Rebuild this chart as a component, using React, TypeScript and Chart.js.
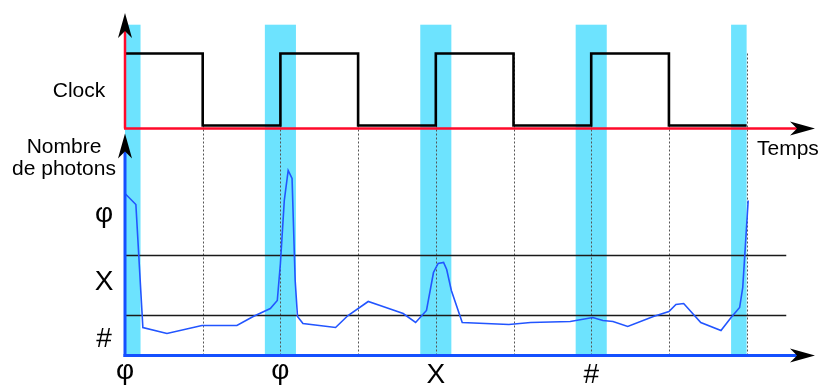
import React, { useEffect, useRef } from 'react';
import { Chart, registerables } from 'chart.js';

Chart.register(...registerables);

// ---- data ----
const clockTimes = [0, 1, 2, 3, 4, 5, 6, 7, 8];
const clockLevels = [1, 0, 1, 0, 1, 0, 1, 0, 0];

const photonTimes = [
  0, 0.14, 0.23, 0.54, 0.99, 1.44, 1.65, 1.87, 1.96, 2.0, 2.05, 2.1, 2.15, 2.19, 2.22, 2.29,
  2.71, 2.87, 3.13, 3.32, 3.58, 3.74, 3.88, 3.97, 4.03, 4.1, 4.14, 4.2, 4.34, 4.94, 5.22,
  5.73, 6.02, 6.15, 6.28, 6.47, 6.8, 7.0, 7.09, 7.19, 7.41, 7.67, 7.8, 7.91, 7.95, 7.98, 8.02,
];
const photonCounts = [
  81, 75.5, 14, 11, 15, 15, 19.5, 23.5, 27.5, 46, 77.5, 92.5, 88.5, 37.5, 19.5, 16,
  14, 20, 27, 24.5, 21, 16.5, 22.5, 41.5, 46, 46.5, 43, 32.5, 16.5, 15.5, 16.5,
  17, 19, 17.5, 17, 14.5, 19.5, 22, 25.5, 26, 16.5, 12.5, 19, 24, 34, 52.5, 77.5,
];

const thresholdLevels = [50, 20];
const thresholdEnd = 8.51;

const bandCenters = [0, 2, 4, 6, 8];
const bandHalfWidth = 0.2;
const bandTopClock = 1.4;

const dottedTimes = [1, 2, 3, 4, 5, 6, 7, 8];

const xTickValues = [0, 2, 4, 6];
const xTickLabels = ['φ', 'φ', 'X', '#'];
const yLabelValues = [69.25, 37.75, 9.25];
const yLabelTexts = ['φ', 'X', '#'];

const photonAxisTop = 111;

// ---- styles ----
const FONT = '"Liberation Sans", Arial, sans-serif';
const CYAN = '#6de3fe';
const BLUE_AXIS = '#1450ff';
const BLUE_LINE = '#2255ff';
const RED = '#ff0a2a';

function drawArrow(ctx: CanvasRenderingContext2D, tx: number, ty: number, dx: number, dy: number) {
  const len = 25, hw = 7, notch = 18;
  const nx = -dy, ny = dx;
  ctx.beginPath();
  ctx.moveTo(tx, ty);
  ctx.lineTo(tx - len * dx + hw * nx, ty - len * dy + hw * ny);
  ctx.lineTo(tx - notch * dx, ty - notch * dy);
  ctx.lineTo(tx - len * dx - hw * nx, ty - len * dy - hw * ny);
  ctx.closePath();
  ctx.fillStyle = '#000';
  ctx.fill();
}

function drawInkCentered(ctx: CanvasRenderingContext2D, text: string, cx: number, cy: number) {
  ctx.textAlign = 'center';
  ctx.textBaseline = 'alphabetic';
  const m = ctx.measureText(text);
  const y = cy + (m.actualBoundingBoxAscent - m.actualBoundingBoxDescent) / 2;
  ctx.fillText(text, cx, y);
}

const diagramPlugin = {
  id: 'diagram',
  beforeDatasetsDraw(chart: any) {
    const { ctx, scales } = chart;
    const x = scales.x, yc = scales.yClock, yp = scales.yPh;
    const tEnd = clockTimes[clockTimes.length - 1];
    ctx.save();
    ctx.fillStyle = CYAN;
    const top = yc.getPixelForValue(bandTopClock);
    const bottom = yp.getPixelForValue(0);
    bandCenters.forEach((c) => {
      const l = x.getPixelForValue(Math.max(0, c - bandHalfWidth));
      const r = x.getPixelForValue(Math.min(tEnd, c + bandHalfWidth));
      ctx.fillRect(l, top, r - l, bottom - top);
    });
    ctx.strokeStyle = '#555';
    ctx.lineWidth = 1;
    ctx.setLineDash([2, 2]);
    dottedTimes.forEach((t) => {
      const px = Math.round(x.getPixelForValue(t)) + 0.5;
      ctx.beginPath();
      ctx.moveTo(px, yc.getPixelForValue(1));
      ctx.lineTo(px, bottom);
      ctx.stroke();
    });
    ctx.restore();
  },
  afterDatasetsDraw(chart: any) {
    const { ctx, scales, chartArea } = chart;
    const x = scales.x, yc = scales.yClock, yp = scales.yPh;
    const x0 = x.getPixelForValue(0);
    ctx.save();
    ctx.setLineDash([]);
    // clock axes (red)
    const redY = yc.getPixelForValue(0) + 3;
    ctx.strokeStyle = RED;
    ctx.lineWidth = 2.5;
    ctx.beginPath();
    ctx.moveTo(x0, redY);
    ctx.lineTo(x0, chartArea.top + 18);
    ctx.stroke();
    ctx.beginPath();
    ctx.moveTo(x0 - 1, redY);
    ctx.lineTo(chartArea.right - 18, redY);
    ctx.stroke();
    drawArrow(ctx, x0, chartArea.top, 0, -1);
    drawArrow(ctx, chartArea.right, redY, 1, 0);
    // photon axes (blue)
    const blueY = yp.getPixelForValue(0);
    const phTop = yp.getPixelForValue(photonAxisTop);
    ctx.strokeStyle = BLUE_AXIS;
    ctx.lineWidth = 3;
    ctx.beginPath();
    ctx.moveTo(x0, blueY + 1.5);
    ctx.lineTo(x0, phTop + 18);
    ctx.stroke();
    ctx.beginPath();
    ctx.moveTo(x0 - 1.5, blueY);
    ctx.lineTo(chartArea.right - 18, blueY);
    ctx.stroke();
    drawArrow(ctx, x0, phTop, 0, -1);
    drawArrow(ctx, chartArea.right, blueY, 1, 0);

    // texts
    ctx.fillStyle = '#000';
    ctx.font = `21px ${FONT}`;
    ctx.textAlign = 'center';
    ctx.textBaseline = 'alphabetic';
    ctx.fillText('Clock', 79, 97);
    ctx.fillText('Nombre', 64, 153);
    ctx.fillText('de photons', 64, 175);
    ctx.textAlign = 'left';
    ctx.fillText('Temps', 757, 155);

    ctx.font = `28px ${FONT}`;
    yLabelTexts.forEach((t, i) => {
      drawInkCentered(ctx, t, 104, yp.getPixelForValue(yLabelValues[i]));
    });
    const xLabelY = blueY + 18;
    xTickLabels.forEach((t, i) => {
      drawInkCentered(ctx, t, x.getPixelForValue(xTickValues[i]), xLabelY);
    });
    ctx.restore();
  },
};

export default function App() {
  const canvasRef = useRef<HTMLCanvasElement | null>(null);

  useEffect(() => {
    const canvas = canvasRef.current;
    if (!canvas) return;
    const photonData = photonTimes.map((t, i) => ({ x: t, y: photonCounts[i] }));
    const clockData = clockTimes.map((t, i) => ({ x: t, y: clockLevels[i] }));
    const thresholdSets = thresholdLevels.map((lv) => ({
      type: 'line' as const,
      data: [{ x: 0, y: lv }, { x: thresholdEnd, y: lv }],
      yAxisID: 'yPh',
      borderColor: '#1a1a1a',
      borderWidth: 1.5,
      pointRadius: 0,
      clip: false as any,
    }));
    const chart = new Chart(canvas, {
      type: 'line',
      data: {
        datasets: [
          {
            data: photonData,
            yAxisID: 'yPh',
            borderColor: BLUE_LINE,
            borderWidth: 1.6,
            pointRadius: 0,
            tension: 0,
            clip: false as any,
          },
          {
            data: clockData,
            yAxisID: 'yClock',
            borderColor: '#000',
            borderWidth: 2.6,
            pointRadius: 0,
            stepped: 'before',
            borderJoinStyle: 'miter',
            borderCapStyle: 'butt',
            clip: false as any,
          },
          ...thresholdSets,
        ] as any,
      },
      options: {
        responsive: false,
        animation: false,
        devicePixelRatio: 1,
        layout: { padding: { left: 125, right: 8, top: 13, bottom: 26 } },
        plugins: { legend: { display: false }, tooltip: { enabled: false } },
        scales: {
          x: { type: 'linear', min: 0, max: 8.88, display: false },
          yClock: { type: 'linear', min: -3.257, max: 1.5625, display: false },
          yPh: { type: 'linear', min: -2.25, max: 171.25, display: false },
        },
      } as any,
      plugins: [diagramPlugin as any],
    });
    return () => chart.destroy();
  }, []);

  return (
    <div style={{ position: 'absolute', left: 0, top: 0, width: 823, height: 386, background: '#fff' }}>
      <canvas ref={canvasRef} width={823} height={386} style={{ display: 'block' }} />
    </div>
  );
}
